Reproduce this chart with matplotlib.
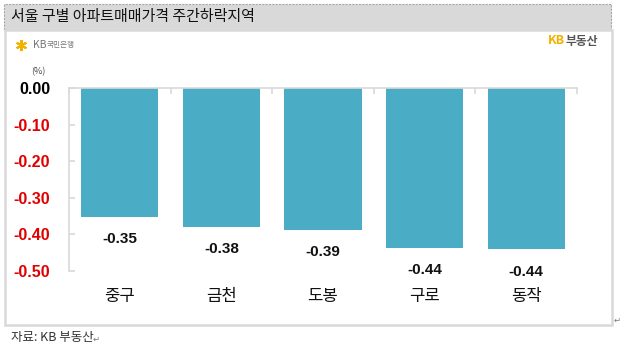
import matplotlib
matplotlib.use("Agg")
import matplotlib.pyplot as plt
from matplotlib.patches import Rectangle
import matplotlib.transforms as mtransforms

plt.rcParams['font.family'] = ['Noto Sans CJK KR', 'DejaVu Sans']

categories = ['중구', '금천', '도봉', '구로', '동작']
values = [-0.352, -0.379, -0.387, -0.437, -0.441]
yticks = [0.0, -0.1, -0.2, -0.3, -0.4, -0.5]
ytick_labels = ['0.00', '-0.10', '-0.20', '-0.30', '-0.40', '-0.50']
title = '서울 구별 아파트매매가격 주간하락지역'
source = '자료: KB 부동산'

W, H = 634, 356
fig = plt.figure(figsize=(W / 100, H / 100), dpi=100)

def fx(px):
    return px / W

def fy(py):
    return 1 - py / H

# title bar
fig.patches.append(Rectangle((fx(4), fy(30)), fx(607), 26 / H, transform=fig.transFigure,
                             facecolor='#d9d9d9', edgecolor='#a6a6a6', linestyle=(0, (2, 1)),
                             linewidth=0.8, zorder=-2))
fig.text(fx(11), fy(17), title, fontsize=10.8, color='#111111', va='center', ha='left',
         fontweight='medium')

# chart frame
fig.patches.append(Rectangle((fx(4.5), fy(325)), fx(607), 295 / H, transform=fig.transFigure,
                             facecolor='white', edgecolor='#d9d9d9', linewidth=1.8, zorder=-2))

# logos
fig.lines.append(plt.Line2D([fx(21)], [fy(45)], marker=(6, 2, 0), markersize=8, color='#f0b400',
                            markeredgewidth=1.5, transform=fig.transFigure))
fig.text(fx(33), fy(45), 'KB', fontsize=7.5, color='#777777', va='center', ha='left')
fig.text(fx(47), fy(45), '국민은행', fontsize=5.5, color='#777777', va='center', ha='left')
fig.text(fx(565), fy(41), 'KB', fontsize=9, color='#f5b000', va='center', ha='right',
         fontweight='bold')
fig.text(fx(566), fy(41), '부동산', fontsize=8.5, color='#555555', va='center', ha='left',
         fontweight='bold')

# source
fig.text(fx(11), fy(338), source, fontsize=9, color='#333333', va='center', ha='left')
fig.text(fx(93), fy(339), '↵', fontsize=6, color='#777777', va='center', ha='left',
         family=['DejaVu Sans'])
fig.text(fx(614), fy(320), '↵', fontsize=6, color='#777777', va='center', ha='left',
         family=['DejaVu Sans'])

# axes
ax = fig.add_axes([fx(69), fy(271), fx(577 - 69), (271 - 88) / H])
ax.set_zorder(1)
ax.patch.set_alpha(0)
x = list(range(len(categories)))
bars = ax.bar(x, values, width=0.76, color='#4bacc6', zorder=2)
ax.set_xlim(-0.5, len(categories) - 0.5)
ax.set_ylim(-0.5, 0.0)

for s in ['right', 'bottom']:
    ax.spines[s].set_visible(False)
ax.spines['left'].set_color('#d9d9d9')
ax.spines['top'].set_color('#d9d9d9')
ax.spines['left'].set_linewidth(1.2)
ax.spines['top'].set_linewidth(1.2)

ax.set_yticks(yticks)
ax.set_yticklabels(ytick_labels)
ax.tick_params(axis='y', direction='in', length=4, color='#d9d9d9', width=1.2, pad=13.5,
               labelsize=11.5)
for lbl, v in zip(ax.get_yticklabels(), yticks):
    lbl.set_fontweight('bold')
    lbl.set_family(['Liberation Sans', 'DejaVu Sans'])
    lbl.set_color('#000000' if v == 0 else '#e00000')

ax.xaxis.tick_top()
ax.set_xticks([i - 0.5 for i in range(len(categories) + 1)])
ax.set_xticklabels([])
ax.tick_params(axis='x', direction='in', length=4, color='#d9d9d9', width=1.2)

# value labels
for xi, v in zip(x, values):
    ax.annotate(f'{v:.2f}', (xi, v), xytext=(0, -16), textcoords='offset points',
                ha='center', va='center', fontsize=11, fontweight='bold',
                family=['Liberation Sans', 'DejaVu Sans'], color='#111111')

# category labels
trans = mtransforms.blended_transform_factory(ax.transData, fig.transFigure)
for xi, c in zip(x, categories):
    ax.text(xi, fy(297), c, transform=trans, ha='center', va='center', fontsize=12,
            color='#111111', fontweight='medium')

# unit label
fig.text(fx(38), fy(72), '(%)', fontsize=6.5, color='#444444', ha='center', va='center')

fig.savefig('out.png', dpi=100)
